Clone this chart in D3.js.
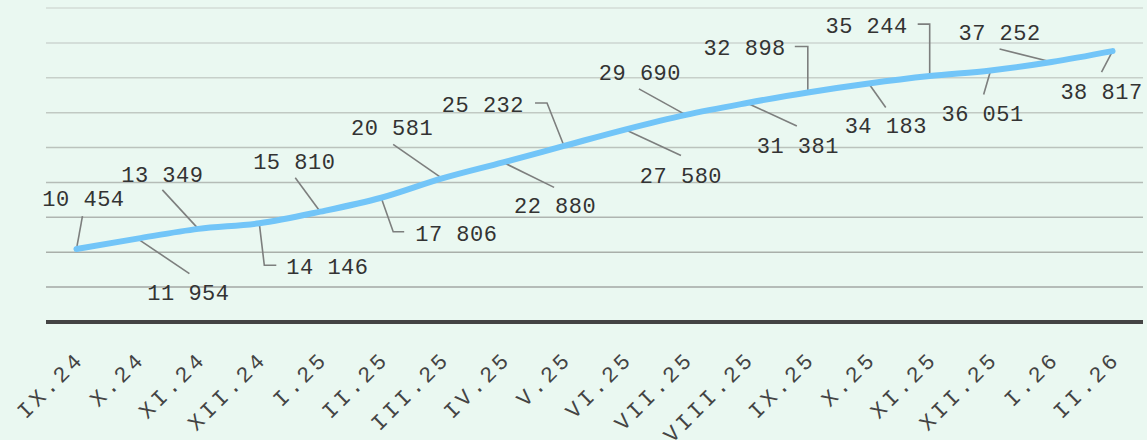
<!DOCTYPE html>
<html>
<head>
<meta charset="utf-8">
<script src="https://cdn.jsdelivr.net/npm/d3@7/dist/d3.min.js"></script>
<style>
  html, body { margin: 0; padding: 0; background: #eaf8f1; }
  svg { display: block; }
</style>
</head>
<body>
<svg id="chart" width="1147" height="440"></svg>
<script>
// ---- data ----
const categories = ["IX.24","X.24","XI.24","XII.24","I.25","II.25","III.25","IV.25","V.25","VI.25","VII.25","VIII.25","IX.25","X.25","XI.25","XII.25","I.26","II.26"];
const values = [10454, 11954, 13349, 14146, 15810, 17806, 20581, 22880, 25232, 27580, 29690, 31381, 32898, 34183, 35244, 36051, 37252, 38817];
const yTicks = [5000, 10000, 15000, 20000, 25000, 30000, 35000, 40000, 45000];

// ---- label layout (leader path offsets + text offset, relative to the point) ----
const labelLayout = [
  {path: [[6,-33]], t: [7,-43], a: "middle"},
  {path: [[52,35]], t: [51,61], a: "middle"},
  {path: [[-36,-39]], t: [-36,-47], a: "middle"},
  {path: [[5,42],[17,42]], t: [27,51], a: "start"},
  {path: [[-25,-34]], t: [-26,-43], a: "middle"},
  {path: [[12,34],[23,34]], t: [34,43], a: "start"},
  {path: [[-49,-34]], t: [-50,-43], a: "middle"},
  {path: [[51,25]], t: [52,51], a: "middle"},
  {path: [[-17,-43],[-29,-43]], t: [-40,-34], a: "end"},
  {path: [[56,26]], t: [56,53], a: "middle"},
  {path: [[-47,-26]], t: [-46,-35], a: "middle"},
  {path: [[50,23]], t: [51,50], a: "middle"},
  {path: [[0,-46],[-13,-46]], t: [-22,-37], a: "end"},
  {path: [[17,24]], t: [17,50], a: "middle"},
  {path: [[0,-52],[-12,-52]], t: [-22,-43], a: "end"},
  {path: [[-7,24]], t: [-8,51], a: "middle"},
  {path: [[-52,-13]], t: [-52,-22], a: "middle"},
  {path: [[-11,21]], t: [-11,48], a: "middle"}
];

const svg = d3.select("#chart");
const plotLeft = 46, plotRight = 1143, plotTop = 8, plotBottom = 322;

const x = d3.scaleBand().domain(categories).range([plotLeft, plotRight]).paddingInner(0).paddingOuter(0);
const y = d3.scaleLinear().domain([0, 45000]).range([plotBottom, plotTop]);
const cx = c => x(c) + x.bandwidth() / 2;

const fmt = d3.formatLocale({decimal: ".", thousands: " ", grouping: [3], currency: ["", ""]}).format(",");

// gridlines
const gridColor = d3.interpolateRgb("#a3a8a4", "#d3ddd6");
svg.append("g").selectAll("line").data(yTicks).join("line")
  .attr("x1", plotLeft).attr("x2", plotRight)
  .attr("y1", d => y(d)).attr("y2", d => y(d))
  .attr("stroke", (d, i) => gridColor(i / (yTicks.length - 1)))
  .attr("stroke-width", 1.5);

// baseline (x axis)
const xAxis = d3.axisBottom(x).tickSize(0).tickPadding(0);
const gx = svg.append("g").attr("transform", `translate(0,${y(0)})`).call(xAxis);
gx.select(".domain").attr("stroke", "#444").attr("stroke-width", 4).attr("d", `M${plotLeft},0H${plotRight}`);
gx.selectAll(".tick text")
  .attr("font-family", "'Liberation Mono', 'Courier New', monospace")
  .attr("font-size", 22)
  .attr("letter-spacing", 3.7)
  .attr("fill", "#444")
  .attr("text-anchor", "end")
  .attr("dy", null)
  .attr("y", null)
  .attr("transform", `translate(9,38) rotate(-45)`);

// line
const line = d3.line()
  .x((d, i) => cx(categories[i]))
  .y(d => y(d))
  .curve(d3.curveMonotoneX);

// leader lines
const lg = svg.append("g");
values.forEach((v, i) => {
  const px = cx(categories[i]), py = y(v);
  const L = labelLayout[i];
  const pts = [[px, py]].concat(L.path.map(p => [px + p[0], py + p[1]]));
  lg.append("path")
    .attr("d", d3.line()(pts))
    .attr("fill", "none")
    .attr("stroke", "#7d7f7e")
    .attr("stroke-width", 1.6);
});

svg.append("path")
  .datum(values)
  .attr("d", line)
  .attr("fill", "none")
  .attr("stroke", "#72c5f8")
  .attr("stroke-width", 6)
  .attr("stroke-linecap", "round")
  .attr("stroke-linejoin", "round");

// value labels
svg.append("g").selectAll("text").data(values).join("text")
  .attr("x", (d, i) => cx(categories[i]) + labelLayout[i].t[0])
  .attr("y", (d, i) => y(d) + labelLayout[i].t[1])
  .attr("text-anchor", (d, i) => labelLayout[i].a)
  .attr("font-family", "'Liberation Mono', 'Courier New', monospace")
  .attr("font-size", 22)
  .attr("letter-spacing", 0.5)
  .attr("fill", "#333")
  .text(d => fmt(d));
</script>
</body>
</html>
